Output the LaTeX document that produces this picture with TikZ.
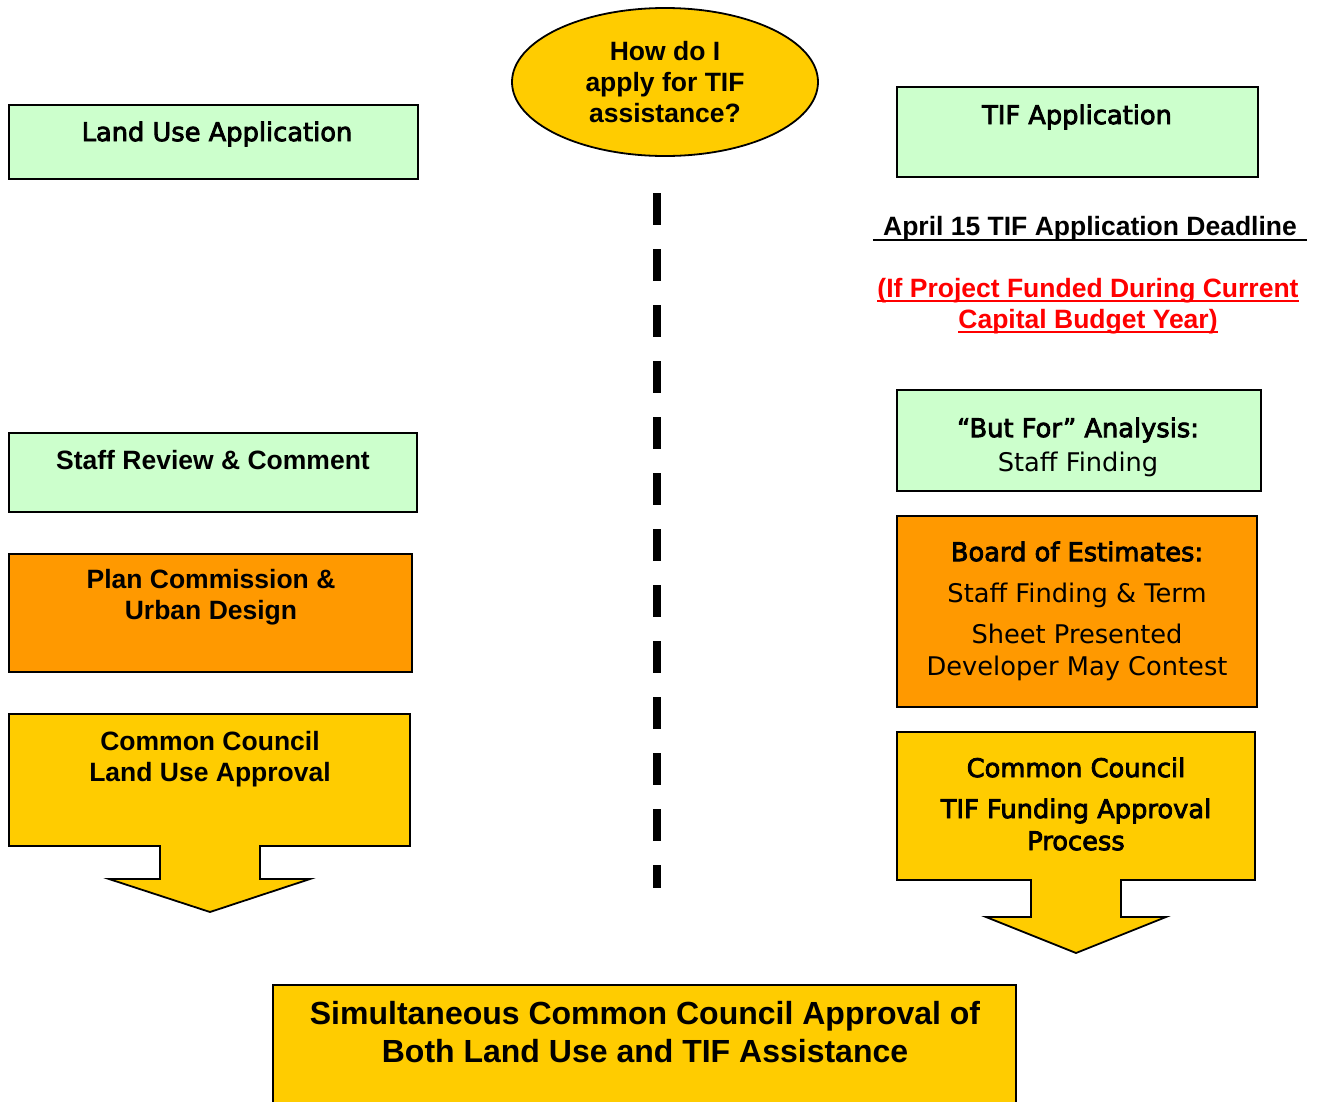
\documentclass[tikz,border=0pt]{standalone}
\usepackage{fontspec}
\setmainfont{Liberation Sans}
\newfontfamily\lucfont{DejaVu Sans}
\newcommand{\lucbold}[1]{\special{pdf:literal direct 2 Tr 0.8 w}#1\special{pdf:literal direct 0 Tr}}
\usetikzlibrary{shapes.geometric}
\definecolor{tifyellow}{HTML}{FFCC00}
\definecolor{tifgreen}{HTML}{CCFFCC}
\definecolor{tiforange}{HTML}{FF9900}

\begin{document}
\begin{tikzpicture}[x=1pt,y=1pt]
\tikzstyle{every node}+=[inner sep=0pt]
\tikzstyle{tifbox}=[draw=black, line width=1.8pt]
\tikzstyle{arial}=[font=\fontsize{26.5}{31}\selectfont\bfseries, align=center]
\tikzstyle{lucida}=[font=\fontsize{25.7}{32}\selectfont\lucfont, align=center]
\clip (0,0) rectangle (1322,-1101);
% question in the middle
\node (question) [ellipse, tifbox, fill=tifyellow, minimum width=306pt, minimum height=148pt, arial] at (665,-82) {How do I\\apply for TIF\\assistance?};
\draw [line width=8pt, dash pattern=on 32pt off 24pt] (657,-193) -- (657,-888);
% land use side
\draw [tifbox, fill=tifgreen] (9,-105) rectangle (418,-179);
\node (landuse) [lucida] at (217,-134) {\lucbold{Land Use Application}};
\draw [tifbox, fill=tifgreen] (9,-433) rectangle (417,-512);
\node (review) [arial] at (213,-460) {Staff Review \& Comment};
\draw [tifbox, fill=tiforange] (9,-554) rectangle (412,-672);
\node (plan) [arial] at (211,-597) {Plan Commission \&\\Urban Design};
\draw [tifbox, fill=tifyellow] (9,-714) -- (410,-714) -- (410,-846) -- (260,-846) -- (260,-879) -- (310,-879) -- (210,-912) -- (109,-879) -- (160,-879) -- (160,-846) -- (9,-846) -- cycle;
\node (landcouncil) [arial] at (210,-759) {Common Council\\Land Use Approval};
% TIF side
\draw [tifbox, fill=tifgreen] (897,-87) rectangle (1258,-177);
\node (tifapp) [lucida] at (1077,-117) {\lucbold{TIF Application}};
\node (deadline) [arial, anchor=base, inner xsep=10pt] at (1090,-235) {April 15 TIF Application Deadline};
\draw [line width=2pt] ([yshift=-5pt]deadline.base west) -- ([yshift=-5pt]deadline.base east);
\node (funded) [arial, text=red, anchor=base] at (1088,-297) {(If Project Funded During Current};
\draw [red, line width=2pt] ([yshift=-4pt]funded.base west) -- ([yshift=-4pt]funded.base east);
\node (budget) [arial, text=red, anchor=base] at (1088,-328) {Capital Budget Year)};
\draw [red, line width=2pt] ([yshift=-4pt]budget.base west) -- ([yshift=-4pt]budget.base east);
\draw [tifbox, fill=tifgreen] (897,-390) rectangle (1261,-491);
\node (butfor) [lucida] at (1078,-447) {\lucbold{“But For” Analysis:}\\[2pt]Staff Finding};
\draw [tifbox, fill=tiforange] (897,-516) rectangle (1257,-707);
\node (estimates) [lucida] at (1077,-611) {\lucbold{Board of Estimates:}\\[9pt]Staff Finding \& Term\\[9pt]Sheet Presented\\Developer May Contest};
\draw [tifbox, fill=tifyellow] (897,-732) -- (1255,-732) -- (1255,-880) -- (1121,-880) -- (1121,-917) -- (1166,-917) -- (1076,-953) -- (986,-917) -- (1031,-917) -- (1031,-880) -- (897,-880) -- cycle;
\node (tifcouncil) [lucida] at (1076,-804) {\lucbold{Common Council}\\[9pt]\lucbold{TIF Funding Approval}\\\lucbold{Process}};
% both together
\draw [tifbox, fill=tifyellow] (273,-985) rectangle (1016,-1120);
\node (both) [font=\fontsize{32}{38.5}\selectfont\bfseries, align=center] at (645,-1032) {Simultaneous Common Council Approval of\\Both Land Use and TIF Assistance};
\end{tikzpicture}
\end{document}
